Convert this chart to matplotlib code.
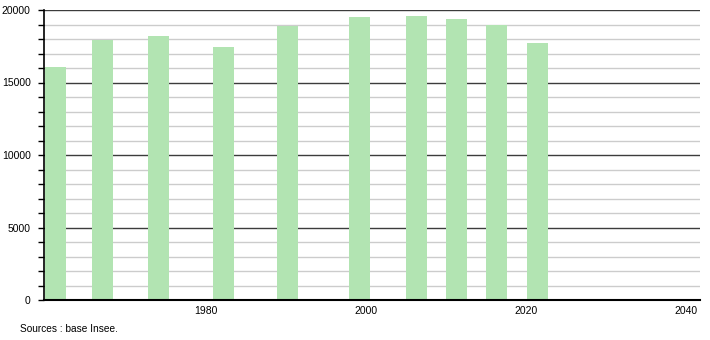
import matplotlib.pyplot as plt
from matplotlib.ticker import MultipleLocator

plt.rcParams['font.family'] = ['Liberation Sans', 'DejaVu Sans']

# bar positions (years) and population values
years = [1961.2, 1967.1, 1974.1, 1982.2, 1990.2, 1999.2, 2006.3, 2011.3, 2016.3, 2021.4]
population = [16090, 17930, 18180, 17470, 18920, 19540, 19610, 19400, 18990, 17750]

fig = plt.figure(figsize=(7.1, 3.4), dpi=100)
ax = fig.add_axes([44 / 710, 40 / 340, 656 / 710, 290 / 340])

ax.bar(years, population, width=2.6, color='#b2e4b2', zorder=3)

ax.set_xlim(1959.75, 2041.75)
ax.set_ylim(0, 20000)
ax.set_xticks([1980, 2000, 2020, 2040])
ax.yaxis.set_major_locator(MultipleLocator(5000))
ax.yaxis.set_minor_locator(MultipleLocator(1000))

ax.grid(which='minor', axis='y', color='#cccccc', linewidth=1, zorder=1)
ax.grid(which='major', axis='y', color='#3c3c3c', linewidth=1, zorder=2)

for s in ['top', 'right']:
    ax.spines[s].set_visible(False)
ax.spines['left'].set_linewidth(1.2)
ax.spines['bottom'].set_linewidth(1.5)
ax.spines['left'].set_zorder(4)
ax.spines['bottom'].set_zorder(4)

ax.tick_params(axis='x', length=0, labelsize=7.5, pad=4)
ax.tick_params(axis='y', which='both', length=4, width=1, labelsize=7.5, pad=5.5)

fig.text(20 / 710, 1 - 329 / 340, 'Sources : base Insee.', fontsize=7.3, va='center')

plt.savefig('out.png', dpi=100)
